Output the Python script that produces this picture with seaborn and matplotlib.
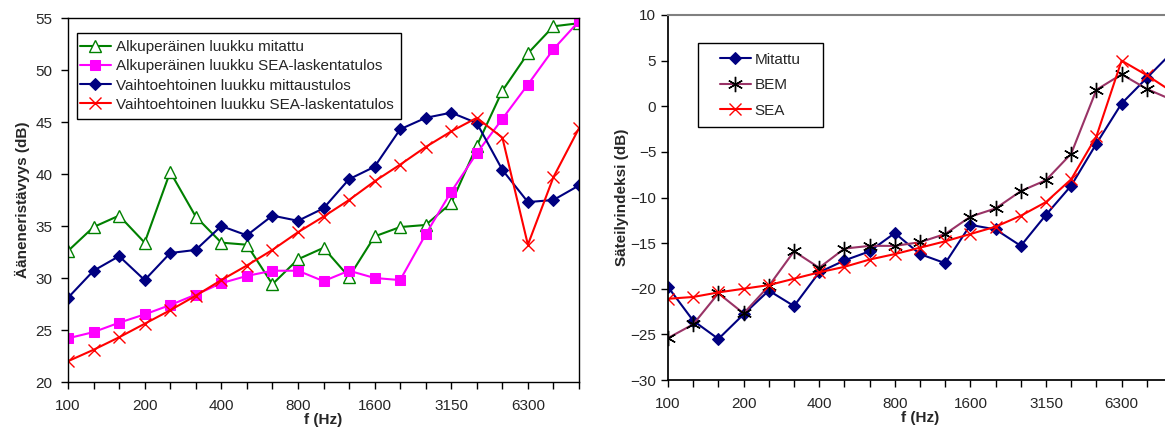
import matplotlib
matplotlib.use("Agg")
import matplotlib.pyplot as plt
from matplotlib.patches import Rectangle
import seaborn as sns
import numpy as np

# third-octave centre frequencies (Hz)
freqs = [100, 125, 160, 200, 250, 315, 400, 500, 630, 800, 1000, 1250,
         1600, 2000, 2500, 3150, 4000, 5000, 6300, 8000, 10000]

# left chart: sound insulation (dB)
alku_mitattu = [32.6, 34.9, 36.0, 33.4, 40.2, 35.9, 33.4, 33.2, 29.4, 31.8, 32.9,
                30.1, 34.0, 34.9, 35.1, 37.2, 42.7, 48.0, 51.6, 54.2, 54.5]
alku_sea = [24.2, 24.8, 25.7, 26.5, 27.4, 28.4, 29.5, 30.2, 30.7, 30.7, 29.7,
            30.7, 30.0, 29.8, 34.2, 38.3, 42.0, 45.3, 48.6, 52.0, 54.7]
vaiht_mitattu = [28.1, 30.7, 32.1, 29.8, 32.4, 32.7, 35.0, 34.1, 36.0, 35.5, 36.7,
                 39.5, 40.7, 44.3, 45.4, 45.9, 44.9, 40.4, 37.3, 37.5, 38.9]
vaiht_sea = [22.0, 23.1, 24.3, 25.6, 26.9, 28.3, 29.8, 31.2, 32.7, 34.4, 35.9,
             37.5, 39.3, 40.9, 42.6, 44.1, 45.4, 43.5, 33.2, 39.7, 44.4]

# right chart: radiation index (dB)
mitattu = [-19.8, -23.5, -25.5, -22.8, -20.2, -21.9, -18.2, -16.9, -15.9, -13.9, -16.2,
           -17.2, -13.0, -13.5, -15.3, -11.9, -8.7, -4.1, 0.3, 3.1, 5.9]
bem = [-25.4, -23.9, -20.5, -22.7, -19.7, -15.9, -17.7, -15.6, -15.3, -15.3, -14.9,
       -14.0, -12.1, -11.2, -9.3, -8.1, -5.2, 1.8, 3.5, 1.9, 0.7]
sea = [-21.1, -20.9, -20.4, -20.0, -19.6, -18.9, -18.2, -17.6, -16.8, -16.2, -15.5,
       -14.8, -14.0, -13.2, -12.0, -10.5, -8.0, -3.3, 5.0, 3.4, 1.6]

sns.set_theme(style="white")
plt.rcParams["font.family"] = ["Liberation Sans", "DejaVu Sans"]

fig = plt.figure(figsize=(11.65, 4.32), dpi=100)
ax1 = fig.add_axes([68 / 1165, 1 - 382 / 432, (579 - 68) / 1165, (382 - 18) / 432])
ax2 = fig.add_axes([668 / 1165, 1 - 380 / 432, (1172 - 668) / 1165, (380 - 15) / 432])

x = np.arange(len(freqs))
lw = 1.5


def boxed_legend(ax, rect, loc, **kw):
    # legend without its own frame, sitting in a plain black box
    x0, y0, x1, y1 = rect
    ax.add_patch(Rectangle((x0, y0), x1 - x0, y1 - y0, transform=ax.transAxes,
                           facecolor="white", edgecolor="black", lw=1.0, zorder=4))
    leg = ax.legend(loc=loc, bbox_to_anchor=(x0, y0, x1 - x0, y1 - y0),
                    frameon=False, borderaxespad=0, **kw)
    leg.set_zorder(5)
    return leg


# left
sns.lineplot(x=x, y=alku_mitattu, ax=ax1, color="#008000", lw=lw, marker="^",
             markersize=8, markerfacecolor="white", markeredgecolor="#008000",
             markeredgewidth=1.0, label="Alkuperäinen luukku mitattu")
sns.lineplot(x=x, y=alku_sea, ax=ax1, color="#FF00FF", lw=lw, marker="s",
             markersize=7, markeredgecolor="#FF00FF",
             label="Alkuperäinen luukku SEA-laskentatulos")
sns.lineplot(x=x, y=vaiht_mitattu, ax=ax1, color="#000080", lw=lw, marker="D",
             markersize=6, markeredgecolor="#000080",
             label="Vaihtoehtoinen luukku mittaustulos")
sns.lineplot(x=x, y=vaiht_sea, ax=ax1, color="#FF0000", lw=lw, marker="x",
             markersize=8, markeredgewidth=1.0, markeredgecolor="#FF0000",
             label="Vaihtoehtoinen luukku SEA-laskentatulos")

ax1.set_ylim(20, 55)
ax1.set_yticks(range(20, 56, 5))
ax1.set_ylabel("Ääneneristävyys (dB)", fontsize=11, fontweight="bold", labelpad=4)
for s in ax1.spines.values():
    s.set_color("black")
    s.set_linewidth(1.0)
ax1.tick_params(axis="y", pad=6)
boxed_legend(ax1, (0.0176, 0.7225, 0.651, 0.9588), "center left", fontsize=11,
             handlelength=2.0, labelspacing=0.33, borderpad=0.2, handletextpad=0.35)

# right
sns.lineplot(x=x, y=mitattu, ax=ax2, color="#000080", lw=lw, marker="D",
             markersize=6, markeredgecolor="#000080", label="Mitattu")
sns.lineplot(x=x, y=bem, ax=ax2, color="#993366", lw=lw, marker=(6, 2, 0),
             markersize=11, markeredgecolor="black", markeredgewidth=1.0, label="BEM")
sns.lineplot(x=x, y=sea, ax=ax2, color="#FF0000", lw=lw, marker="x",
             markersize=8, markeredgewidth=1.0, markeredgecolor="#FF0000", label="SEA")

ax2.set_ylim(-30, 10)
ax2.set_yticks(range(-30, 11, 5))
ax2.set_ylabel("Säteilyindeksi (dB)", fontsize=11, fontweight="bold", labelpad=1)
ax2.spines["left"].set_color("black")
ax2.spines["bottom"].set_color("black")
ax2.spines["top"].set_color("#808080")
ax2.spines["top"].set_linewidth(1.5)
ax2.spines["right"].set_visible(False)
boxed_legend(ax2, (0.059, 0.693, 0.3075, 0.923), "center", fontsize=11,
             handlelength=2.0, labelspacing=0.75, borderpad=0.2, handletextpad=0.25)

for ax in (ax1, ax2):
    ax.set_xlim(0, len(freqs) - 1)
    ax.set_xticks(x)
    ax.set_xticklabels([str(f) if i % 3 == 0 else "" for i, f in enumerate(freqs)])
    ax.set_xlabel("f (Hz)", fontsize=11, fontweight="bold", labelpad=0)
    ax.tick_params(axis="both", which="major", direction="out", length=5,
                   width=1, color="black", labelsize=11, bottom=True, left=True)
    ax.tick_params(axis="x", pad=7)
    ax.grid(False)

fig.savefig("out.png", dpi=100)
